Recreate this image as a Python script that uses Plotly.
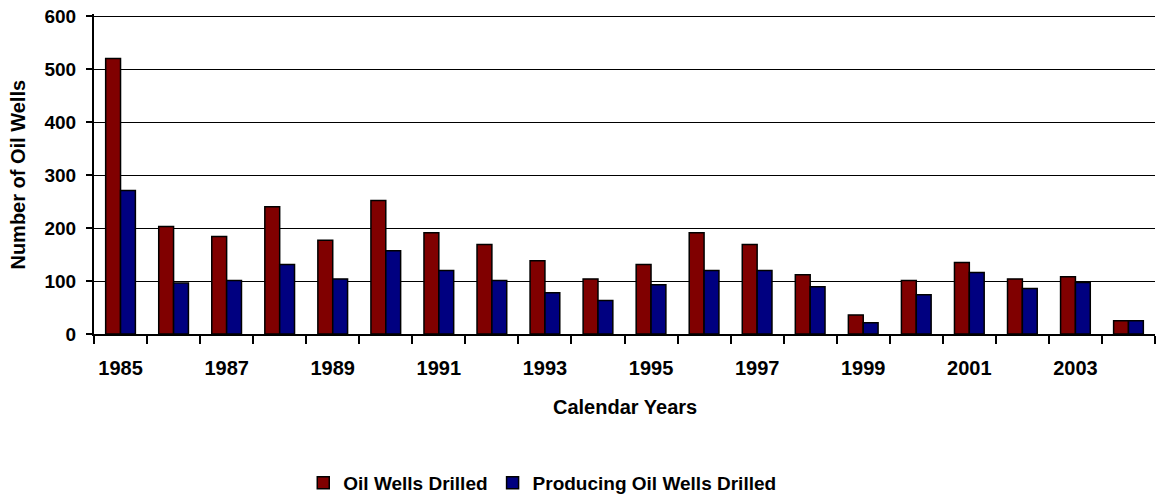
import plotly.graph_objects as go

years = list(range(1985, 2005))
oil_wells_drilled = [520, 203, 184, 240, 177, 252, 191, 169, 138, 104, 131, 191, 169, 112, 36, 101, 135, 104, 108, 25]
producing_wells = [271, 96, 101, 131, 104, 157, 120, 101, 78, 63, 93, 120, 120, 89, 21, 74, 116, 86, 97, 25]
label_years = list(range(1985, 2004, 2))
boundaries = [y - 0.5 for y in range(1985, 2006)]

FONT = dict(family="Liberation Sans, Arial, sans-serif", color="black", weight="bold")

fig = go.Figure()
fig.add_trace(go.Bar(x=years, y=oil_wells_drilled, name="Oil Wells Drilled",
                     marker=dict(color="#800000", line=dict(color="black", width=1.5))))
fig.add_trace(go.Bar(x=years, y=producing_wells, name="Producing Oil Wells Drilled",
                     marker=dict(color="#000080", line=dict(color="black", width=1.5))))

fig.update_layout(
    width=1156, height=497,
    margin=dict(l=94, r=1, t=14, b=163, autoexpand=False),
    paper_bgcolor="white", plot_bgcolor="white",
    barmode="group", bargap=0.44, bargroupgap=0,
    font=dict(**FONT, size=20),
    showlegend=True,
    legend=dict(orientation="h", xref="paper", yref="paper",
                x=0.4225, y=-0.4657, xanchor="center", yanchor="middle",
                font=dict(**FONT, size=19), itemwidth=30, tracegroupgap=0),
    xaxis=dict(
        range=[1984.5, 2004.5], automargin=False,
        tickvals=label_years, ticktext=[str(y) for y in label_years],
        ticks="", ticklabelstandoff=15, ticklabeloverflow="allow",
        showgrid=False, zeroline=False,
        showline=True, linecolor="black", linewidth=2,
        minor=dict(tickvals=boundaries, ticks="outside", ticklen=8, tickwidth=2, tickcolor="black", showgrid=False),
        tickfont=dict(**FONT, size=20),
    ),
    yaxis=dict(
        range=[0, 603.8], tick0=0, dtick=100, automargin=False,
        ticks="outside", ticklen=6, tickwidth=2, tickcolor="black",
        ticklabelstandoff=6, ticklabeloverflow="allow",
        showgrid=True, gridcolor="black", gridwidth=1,
        zeroline=False,
        showline=True, linecolor="black", linewidth=2,
        tickfont=dict(**FONT, size=19),
    ),
    annotations=[
        dict(text="Calendar Years", xref="paper", yref="paper", x=0.5, y=-0.228,
             xanchor="center", yanchor="middle", showarrow=False, font=dict(**FONT, size=20)),
        dict(text="Number of Oil Wells", xref="paper", yref="paper", x=-0.072, y=0.497,
             xanchor="center", yanchor="middle", textangle=-90, showarrow=False, font=dict(**FONT, size=20)),
    ],
)

fig.write_html("out.html", config={"displayModeBar": False},
               post_script="document.body.style.margin='0';")
